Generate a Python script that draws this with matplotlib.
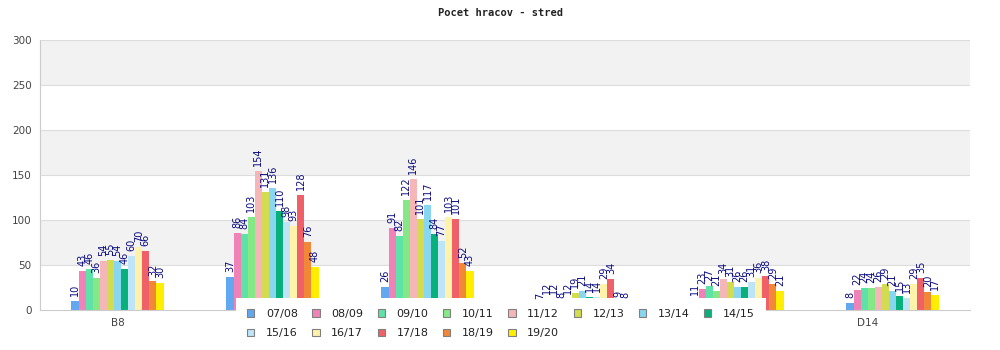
import numpy as np
import matplotlib
matplotlib.use("Agg")
import matplotlib.pyplot as plt
from matplotlib.patches import Patch

categories = ['B8', '', '', '', '', 'D14']
seasons = ['07/08', '08/09', '09/10', '10/11', '11/12', '12/13', '13/14',
           '14/15', '15/16', '16/17', '17/18', '18/19', '19/20']
colors = ['#62a8f0', '#f082b8', '#5ee2a8', '#84e884', '#f4b6b6', '#d2dc4e',
          '#88d6f0', '#08b07c', '#bee4f8', '#fff2aa', '#f06068', '#f08838',
          '#ffee00']

# values per season, one entry per category
values = {
    '07/08': [10, 37, 26, 7, 11, 8],
    '08/09': [43, 86, 91, 12, 23, 22],
    '09/10': [46, 84, 82, 12, 27, 24],
    '10/11': [36, 103, 122, 8, 21, 24],
    '11/12': [54, 154, 146, 12, 34, 26],
    '12/13': [55, 131, 101, 19, 31, 29],
    '13/14': [54, 136, 117, 21, 26, 21],
    '14/15': [46, 110, 84, 14, 26, 15],
    '15/16': [60, 98, 77, 14, 31, 13],
    '16/17': [70, 93, 103, 29, 36, 29],
    '17/18': [66, 128, 101, 34, 38, 35],
    '18/19': [32, 76, 52, 9, 29, 20],
    '19/20': [30, 48, 43, 8, 21, 17],
}

fig = plt.figure(figsize=(10, 3.5), dpi=100)
ax = fig.add_axes([0.04, 0.1143, 0.93, 0.7714])

# alternating background bands
for k, lo in enumerate(range(0, 300, 50)):
    if k % 2 == 1:
        ax.axhspan(lo, lo + 50, color='#f2f2f2', zorder=0, lw=0)
for y in range(50, 301, 50):
    ax.axhline(y, color='#dddddd', lw=0.8, zorder=0.5)

x = np.arange(len(categories))
w = 0.0457
for j, s in enumerate(seasons):
    xs = x + (j - 6) * w
    ax.bar(xs, values[s], width=w, color=colors[j], zorder=2, lw=0)
    for xi, v in zip(xs, values[s]):
        # above the legend box, which overlaps the bottom of the plot
        ax.annotate(str(v), (xi, v), xytext=(0, 3.6), textcoords='offset points',
                    rotation=90, ha='center', va='bottom', fontsize=7,
                    color='#0a0a80', zorder=7)

ax.set_xlim(-0.5, len(categories) - 0.5)
ax.set_ylim(0, 300)
ax.set_yticks(range(0, 301, 50))
# category labels sit a bit tighter than the bar groups
ax.set_xticks(x * 150 / 155)
ax.set_xticklabels(categories)
ax.tick_params(length=0, labelsize=7.5, colors='#444444', pad=6)
for sp in ['top', 'right']:
    ax.spines[sp].set_visible(False)
for sp in ['left', 'bottom']:
    ax.spines[sp].set_color('#cccccc')

fig.suptitle('Pocet hracov - stred', y=0.978, fontsize=7.5,
             fontweight='bold', color='#222222', family='DejaVu Sans Mono')

# matplotlib fills legend columns first; reorder so rows read left to right
order = [0, 8, 1, 9, 2, 10, 3, 11, 4, 12, 5, 6, 7]
handles = [Patch(facecolor=colors[i], edgecolor='#808080', lw=0.8) for i in order]
labels = [seasons[i] for i in order]
leg = ax.legend(handles, labels, ncol=8, loc='upper center',
                bbox_to_anchor=(0.501, 0.149), bbox_transform=fig.transFigure,
                fontsize=8, frameon=True,
                fancybox=False, handlelength=0.65, handleheight=0.65,
                handletextpad=1.05, columnspacing=1.3, borderpad=1.0,
                labelspacing=0.85, borderaxespad=0)
leg.set_zorder(6)
leg.get_frame().set_facecolor('white')
leg.get_frame().set_edgecolor('none')
leg.get_frame().set_alpha(1)
for t in leg.get_texts():
    t.set_color('#222222')

fig.savefig('out.png', dpi=100)
